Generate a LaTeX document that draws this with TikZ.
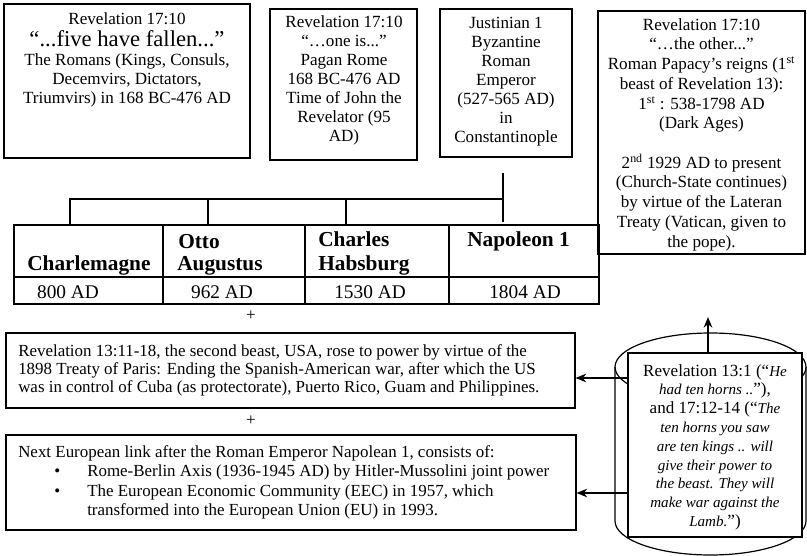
\documentclass[tikz,border=0pt]{standalone}
\usepackage{fontspec}
\setmainfont{Liberation Serif}
\usetikzlibrary{fit,arrows.meta}
\tikzset{
  boxline/.style={draw=black, line width=0.9pt},
  frame/.style={boxline, inner sep=0pt},
  txt/.style={inner sep=0pt, align=center, font=\fontsize{12.8}{14.3}\selectfont},
  ltxt/.style={inner sep=0pt, align=left, font=\fontsize{12.7}{13.4}\selectfont},
  hd/.style={inner sep=0pt, font=\fontsize{16}{18}\selectfont\bfseries},
  dt/.style={inner sep=0pt, font=\fontsize{14.5}{16}\selectfont},
  link/.style={draw=black, line width=0.9pt},
  arr/.style={link, -{Stealth[length=8pt,width=6.5pt]}}
}
\newcommand{\itq}[1]{{\fontsize{11.3}{14.1}\selectfont\itshape #1}}
\begin{document}
\begin{tikzpicture}[x=0.75pt,y=-0.75pt]
\useasboundingbox (0,0) rectangle (807,556);

% top boxes
\node[frame, fit={(4,4) (250,158)}] (b1) {};
\node[txt, anchor=north] (t1) at (127,12) {Revelation 17:10\\[2.5pt]{\fontsize{17}{19}\selectfont “...five have fallen...”}\\The Romans (Kings, Consuls,\\Decemvirs, Dictators,\\Triumvirs) in 168 BC-476 AD};

\node[frame, fit={(270,9) (417,160)}] (b2) {};
\node[txt, anchor=north] (t2) at (344,15) {Revelation 17:10\\“…one is...”\\Pagan Rome\\168 BC-476 AD\\Time of John the\\Revelator (95\\AD)};

\node[frame, fit={(440,9) (572,157)}] (b3) {};
\node[txt, anchor=north] (t3) at (506,17) {Justinian 1\\Byzantine\\Roman\\Emperor\\(527-565 AD)\\in\\Constantinople};

\node[frame, fit={(598,11) (805,254)}] (b4) {};
\node[txt, anchor=north, font=\fontsize{12.8}{14.8}\selectfont] (t4) at (701.5,18) {Revelation 17:10\\“…the other...”\\Roman Papacy’s reigns (1\textsuperscript{st}\\beast of Revelation 13):\\1\textsuperscript{st} : 538-1798 AD\\(Dark Ages)\\~\\2\textsuperscript{nd} 1929 AD to present\\(Church-State continues)\\by virtue of the Lateran\\Treaty (Vatican, given to\\the pope).};
\draw[boxline] (b4.south west) -- (b4.south east);

% table
\node[frame, fit={(14,225) (599,304)}] (tbl) {};
\draw[boxline] (14,277) -- (599,277);
\draw[boxline] (163,225) -- (163,304);
\draw[boxline] (305,225) -- (305,304);
\draw[boxline] (449,225) -- (449,304);

\node[hd, anchor=base west] (h1) at (27,270) {Charlemagne};
\node[hd, anchor=base west] (h2a) at (178,248) {Otto};
\node[hd, anchor=base west] (h2b) at (177,270) {Augustus};
\node[hd, anchor=base west] (h3a) at (318,247) {Charles};
\node[hd, anchor=base west] (h3b) at (318,270) {Habsburg};
\node[hd, anchor=base west] (h4) at (467,247) {Napoleon 1};

\node[dt, anchor=base] (d1) at (68,298) {800 AD};
\node[dt, anchor=base] (d2) at (222,298) {962 AD};
\node[dt, anchor=base] (d3) at (370,298) {1530 AD};
\node[dt, anchor=base] (d4) at (525,298) {1804 AD};

% connector from Justinian to the table
\coordinate (jt) at (503,173);
\coordinate (jb) at (503,222);
\coordinate (hl) at (69,199);
\coordinate (hr) at (503,199);
\coordinate (k1) at (70,199);
\coordinate (k2) at (208,199);
\coordinate (k3) at (346,199);
\draw[link] (jt) -- (jb);
\draw[link] (hl) -- (hr);
\draw[link] (k1) -- (k1 |- tbl.north);
\draw[link] (k2) -- (k2 |- tbl.north);
\draw[link] (k3) -- (k3 |- tbl.north);

% plus signs
\node[txt] (p1) at (251,316) {+};
\node[txt] (p2) at (251,421) {+};

% lower boxes
\node[frame, fit={(6,333) (575,408)}] (b5) {};
\node[ltxt, anchor=west] (t5) at (18,370.5) {Revelation 13:11-18, the second beast, USA, rose to power by virtue of the\\1898 Treaty of Paris: Ending the Spanish-American war, after which the US\\was in control of Cuba (as protectorate), Puerto Rico, Guam and Philippines.};

\node[frame, fit={(6,435) (576,530)}] (b6) {};
\node[ltxt, anchor=west, font=\fontsize{12.7}{14.5}\selectfont] (t6) at (18,482.5) {Next European link after the Roman Emperor Napolean 1, consists of:\\
\hspace*{27pt}\makebox[24.75pt][l]{•}Rome-Berlin Axis (1936-1945 AD) by Hitler-Mussolini joint power\\
\hspace*{27pt}\makebox[24.75pt][l]{•}The European Economic Community (EEC) in 1957, which\\
\hspace*{51.75pt}transformed into the European Union (EU) in 1993.};

% cylinder
\draw[boxline] (710.5,367) ellipse [x radius=71.625pt, y radius=25.5pt];
\draw[boxline] (615,367) -- (615,521) arc[start angle=180, end angle=360, x radius=71.625pt, y radius=25.5pt] -- (806,367);
\node[frame, fill=white, fit={(628,353) (802,537)}] (cyl) {};
\node[txt, anchor=north, font=\fontsize{12.8}{14.1}\selectfont] (tc) at (715,364) {Revelation 13:1 (“\itq{He}\\\itq{had ten horns ..}”),\\and 17:12-14 (“\itq{The}\\\itq{ten horns you saw}\\\itq{are ten kings .. will}\\\itq{give their power to}\\\itq{the beast. They will}\\\itq{make war against the}\\\itq{Lamb.}”)};

% arrows from the cylinder
\coordinate (a5) at (628,378);
\coordinate (a6) at (628,493);
\coordinate (au) at (708,353);
\coordinate (aut) at (708,317);
\draw[arr] (a5) -- (a5 -| b5.east);
\draw[arr] (a6) -- (a6 -| b6.east);
\draw[arr] (au) -- (aut);
\end{tikzpicture}
\end{document}
